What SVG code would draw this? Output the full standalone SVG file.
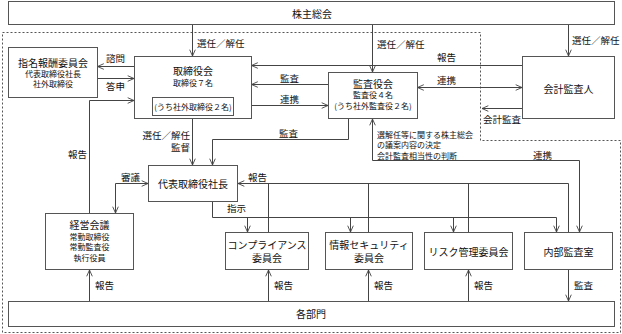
<svg xmlns="http://www.w3.org/2000/svg" width="622" height="334" viewBox="0 0 622 334">
<style>
.box{fill:#fff;stroke:#555;stroke-width:1}
.ln{fill:none;stroke:#444;stroke-width:1}
.a{marker-end:url(#ah)}
.d{marker-start:url(#ah);marker-end:url(#ah)}
.dot{fill:none;stroke:#555;stroke-width:1;stroke-dasharray:2 2}
text{font-family:"Noto Sans CJK JP","Noto Sans CJK SC",sans-serif;fill:#111}
.t{font-size:10px;text-anchor:middle}
.s{font-size:8px;text-anchor:middle}
.lb{font-size:9.5px}
.sm{font-size:8px}
</style>
<defs>
<marker id="ah" viewBox="0 0 10 10" refX="10" refY="5" markerWidth="7" markerHeight="7" markerUnits="userSpaceOnUse" orient="auto-start-reverse">
<path d="M1,1 L10,5 L1,9" fill="none" stroke="#444" stroke-width="1.3"/>
</marker>
</defs>
<path class="dot" d="M2.5,32.5 H480.5 V140.5 H620.5 V332.5 H2.5 Z"/>
<g id="connectors">
<path class="ln a" d="M192.5,25 V56"/>
<path class="ln a" d="M372.5,25 V72"/>
<path class="ln a" d="M568.5,25 V56"/>
<path class="ln a" d="M134,66.5 H97.5"/>
<path class="ln a" d="M97.5,78.5 H134"/>
<path class="ln a" d="M89.5,213 V100.5 H134"/>
<path class="ln a" d="M522,65.5 H251.5"/>
<path class="ln a" d="M328,84.5 H251.5"/>
<path class="ln d" d="M233.5,105.5 H328"/>
<path class="ln d" d="M417.5,87.5 H522"/>
<path class="ln a" d="M522,108.5 H482"/>
<path class="ln a" d="M192.5,118.5 V165"/>
<path class="ln a" d="M348.5,118.5 V139.5 H212.5 V165"/>
<path class="ln d" d="M372.5,119 V160.5 H579.5 V232"/>
<path class="ln d" d="M148,183.5 H115.5 V213"/>
<path class="ln a" d="M568.5,232.5 V183.5 H238"/>
<path class="ln" d="M268.5,183.5 V232.5 M368.5,183.5 V232.5 M468.5,183.5 V232.5"/>
<path class="ln" d="M212.5,201.5 V217.5 H556.5"/>
<path class="ln a" d="M247.5,217.5 V232"/>
<path class="ln a" d="M350.5,217.5 V232"/>
<path class="ln a" d="M453.5,217.5 V232"/>
<path class="ln a" d="M556.5,217.5 V232"/>
<path class="ln a" d="M89.5,301 V270"/>
<path class="ln a" d="M268.5,301 V270"/>
<path class="ln a" d="M368.5,301 V270"/>
<path class="ln a" d="M468.5,301 V270"/>
<path class="ln a" d="M568.5,270 V301"/>
</g>
<g id="labels">
<text class="lb" x="197" y="47">選任／解任</text>
<text class="lb" x="377" y="48">選任／解任</text>
<text class="lb" x="572" y="44">選任／解任</text>
<text class="lb" x="106" y="62">諮問</text>
<text class="lb" x="106" y="90">答申</text>
<text class="lb" x="68" y="158">報告</text>
<text class="lb" x="437" y="61">報告</text>
<text class="lb" x="280" y="82">監査</text>
<text class="lb" x="280" y="103">連携</text>
<text class="lb" x="437" y="84">連携</text>
<text class="lb" x="483" y="123">会計監査</text>
<text class="lb" x="190" y="139" text-anchor="end">選任／解任</text>
<text class="lb" x="190" y="151" text-anchor="end">監督</text>
<text class="lb" x="279" y="137">監査</text>
<text class="sm" x="377" y="138">選解任等に関する株主総会</text>
<text class="sm" x="377" y="148">の議案内容の決定</text>
<text class="sm" x="377" y="159">会計監査相当性の判断</text>
<text class="lb" x="533" y="159">連携</text>
<text class="lb" x="121" y="181">審議</text>
<text class="lb" x="248" y="181">報告</text>
<text class="lb" x="227" y="212">指示</text>
<text class="lb" x="95" y="289">報告</text>
<text class="lb" x="274" y="289">報告</text>
<text class="lb" x="374" y="289">報告</text>
<text class="lb" x="474" y="289">報告</text>
<text class="lb" x="574" y="289">監査</text>
</g>
<g id="shareholders">
<rect class="box" x="8.5" y="1.5" width="606" height="23"/>
<text class="t" x="312" y="18">株主総会</text>
</g>
<g id="nomination">
<rect class="box" x="8.5" y="47.5" width="89" height="50"/>
<text class="t" x="53" y="67">指名報酬委員会</text>
<text class="s" x="53" y="77">代表取締役社長</text>
<text class="s" x="53" y="87">社外取締役</text>
</g>
<g id="board">
<rect class="box" x="134.5" y="56.5" width="117" height="62"/>
<text class="t" x="193" y="75">取締役会</text>
<text class="s" x="193" y="86">取締役７名</text>
<rect class="box" x="152.5" y="97.5" width="81" height="18"/>
<text class="s" x="193" y="109.5">(うち社外取締役２名)</text>
</g>
<g id="auditboard">
<rect class="box" x="328.5" y="72.5" width="89" height="46"/>
<text class="t" x="373" y="88">監査役会</text>
<text class="s" x="373" y="98">監査役４名</text>
<text class="s" x="373" y="109">(うち社外監査役２名)</text>
</g>
<g id="accountant">
<rect class="box" x="522.5" y="56.5" width="92" height="62"/>
<text class="t" x="568.5" y="93">会計監査人</text>
</g>
<g id="president">
<rect class="box" x="148.5" y="165.5" width="89" height="36"/>
<text class="t" x="193" y="188">代表取締役社長</text>
</g>
<g id="management">
<rect class="box" x="45.5" y="213.5" width="88" height="56"/>
<text class="t" x="89.5" y="229">経営会議</text>
<text class="s" x="89.5" y="240">常勤取締役</text>
<text class="s" x="89.5" y="250">常勤監査役</text>
<text class="s" x="89.5" y="261">執行役員</text>
</g>
<g id="compliance">
<rect class="box" x="225.5" y="232.5" width="83" height="37"/>
<text class="t" x="267" y="249">コンプライアンス</text>
<text class="t" x="267" y="262">委員会</text>
</g>
<g id="infosec">
<rect class="box" x="325.5" y="232.5" width="87" height="37"/>
<text class="t" x="369" y="249">情報セキュリティ</text>
<text class="t" x="369" y="262">委員会</text>
</g>
<g id="risk">
<rect class="box" x="424.5" y="232.5" width="88" height="37"/>
<text class="t" x="468.5" y="256">リスク管理委員会</text>
</g>
<g id="internalaudit">
<rect class="box" x="524.5" y="232.5" width="88" height="37"/>
<text class="t" x="568.5" y="256">内部監査室</text>
</g>
<g id="departments">
<rect class="box" x="8.5" y="301.5" width="606" height="25"/>
<text class="t" x="311" y="318">各部門</text>
</g>
</svg>
